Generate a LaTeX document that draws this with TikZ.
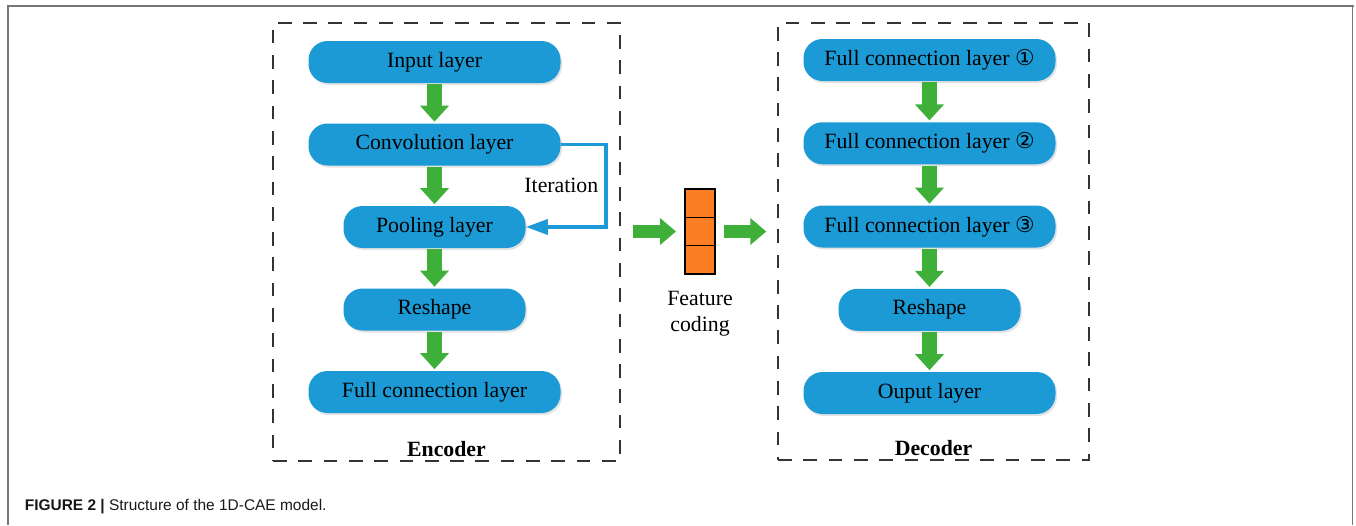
\documentclass[tikz,border=0pt]{standalone}
\usepackage{fontspec}
\setmainfont{Liberation Serif}
\newfontfamily\capfont{Liberation Sans}
\newfontfamily\digitfont{DejaVu Sans}
\usepackage{xcolor}
\usepackage{tikz}
\usetikzlibrary{arrows.meta, shadows}
\definecolor{layerblue}{RGB}{27,154,214}
\definecolor{arrowgreen}{RGB}{62,176,58}
\definecolor{codeorange}{RGB}{252,126,36}
\definecolor{framegray}{RGB}{118,118,118}
\tikzstyle{layerbox} = [rectangle, rounded corners=0.38cm, minimum width=5.04cm, minimum height=0.84cm, text centered, fill=layerblue, drop shadow={opacity=0.22, shadow xshift=0.03cm, shadow yshift=-0.04cm}, font=\fontsize{12.4}{15}\selectfont]
\tikzstyle{shortbox} = [layerbox, minimum width=3.64cm]
\tikzstyle{groupbox} = [rectangle, draw=black!80, line width=0.8pt, dash pattern=on 7.8pt off 6.6pt]
\tikzstyle{cell} = [rectangle, draw=black, line width=0.8pt, fill=codeorange, minimum width=0.6cm, minimum height=0.567cm, outer sep=0pt]
\tikzstyle{fatarrow} = [arrowgreen, line width=0.3cm, -{Triangle[width=0.56cm, length=0.32cm]}, shorten <=0.02cm, shorten >=0.03cm]
\tikzstyle{sidearrow} = [arrowgreen, line width=0.26cm, -{Triangle[width=0.52cm, length=0.32cm]}]
\tikzstyle{iterline} = [layerblue, line width=0.07cm, -{Triangle[width=0.3cm, length=0.44cm]}]
\tikzstyle{tag} = [text=black, font=\fontsize{12.4}{15}\selectfont]

\begin{document}
\begin{tikzpicture}[node distance=1.65cm]
\useasboundingbox (0,0) rectangle (27.12,-10.5);
\draw[framegray, line width=0.03cm] (0.16,-10.5) -- (0.16,-0.12);
\draw[framegray, line width=0.03cm] (27.05,-10.5) -- (27.05,-0.12);
\draw[framegray, line width=0.045cm] (0.14,-0.12) -- (27.07,-0.12);

\node (encbox) [groupbox, minimum width=6.94cm, minimum height=8.76cm] at (8.93,-4.84) {};
\node (decbox) [groupbox, minimum width=6.22cm, minimum height=8.74cm] at (18.67,-4.83) {};
\node (enclbl) [tag] at ([yshift=0.25cm]encbox.south) {\textbf{Encoder}};
\node (declbl) [tag] at ([yshift=0.25cm]decbox.south) {\textbf{Decoder}};

\node (in1) [layerbox] at (8.69,-1.24) {Input layer};
\node (conv) [layerbox, below of=in1] {Convolution layer};
\node (pool) [shortbox, below of=conv] {Pooling layer};
\node (res1) [shortbox, below of=pool] {Reshape};
\node (fc0) [layerbox, below of=res1] {Full connection layer};

\begin{scope}[node distance=1.665cm]
\node (fc1) [layerbox] at (18.59,-1.2) {Full connection layer {\digitfont ①}};
\node (fc2) [layerbox, below of=fc1] {Full connection layer {\digitfont ②}};
\node (fc3) [layerbox, below of=fc2] {Full connection layer {\digitfont ③}};
\node (res2) [shortbox, below of=fc3] {Reshape};
\node (out) [layerbox, below of=res2] {Ouput layer};
\end{scope}

\node (feat2) [cell] at (14.0,-4.63) {};
\node (feat1) [cell, anchor=south] at (feat2.north) {};
\node (feat3) [cell, anchor=north] at (feat2.south) {};
\node (featlbl) [tag, align=center] at (14.0,-6.28) {Feature\\coding};

\draw[fatarrow] (in1) -- (conv);
\draw[fatarrow] (conv) -- (pool);
\draw[fatarrow] (pool) -- (res1);
\draw[fatarrow] (res1) -- (fc0);
\draw[fatarrow] (fc1) -- (fc2);
\draw[fatarrow] (fc2) -- (fc3);
\draw[fatarrow] (fc3) -- (res2);
\draw[fatarrow] (res2) -- (out);

\draw[iterline] (conv.east) -- ++(0.9,0) |- node[tag, pos=0.25, left] {Iteration} (pool.east);

\draw[sidearrow, shorten <=0.24cm, shorten >=0.18cm] (encbox.east |- feat2) -- (feat2.west);
\draw[sidearrow, shorten <=0.18cm, shorten >=0.22cm] (feat2.east) -- (decbox.west |- feat2);

\node (caption) [anchor=west, inner sep=0pt, text=black!90, font=\capfont\fontsize{8.8}{10}\selectfont] at (0.49,-10.14) {\textbf{FIGURE 2 |} Structure of the 1D-CAE model.};

\end{tikzpicture}
\end{document}
